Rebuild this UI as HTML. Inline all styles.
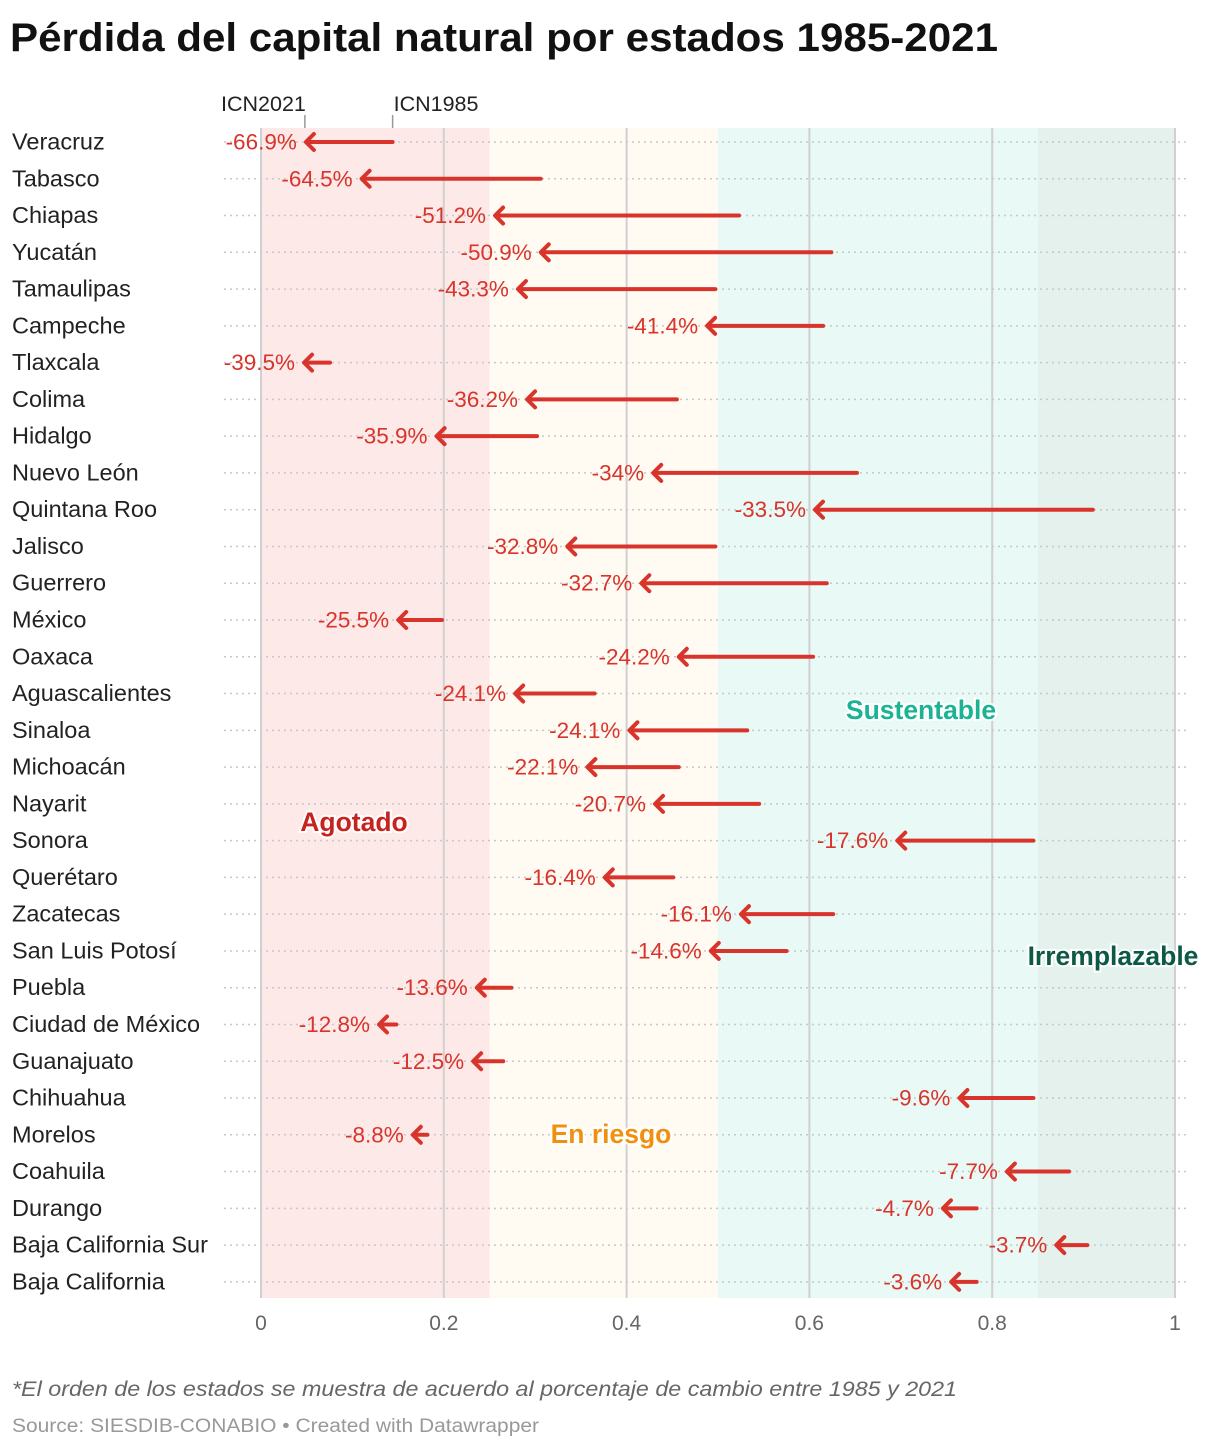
<!DOCTYPE html>
<html><head><meta charset="utf-8"><style>
body{margin:0;background:#fff;width:1220px;height:1448px;overflow:hidden;font-family:"Liberation Sans",Arial,sans-serif}
svg text{font-family:"Liberation Sans",Arial,sans-serif}
</style></head><body>
<svg id="chart" width="1220" height="1448" xmlns="http://www.w3.org/2000/svg">
<text x="10" y="51" font-size="40" font-weight="bold" fill="#111" textLength="988" lengthAdjust="spacingAndGlyphs">Pérdida del capital natural por estados 1985-2021</text>
<g id="bands"></g><g id="grid"></g><g id="marks"></g>
<text x="12" y="1396" font-size="21" font-style="italic" fill="#666" textLength="945" lengthAdjust="spacingAndGlyphs">*El orden de los estados se muestra de acuerdo al porcentaje de cambio entre 1985 y 2021</text>
<text x="12" y="1432" font-size="19" fill="#999" textLength="527" lengthAdjust="spacingAndGlyphs">Source: SIESDIB-CONABIO • Created with Datawrapper</text>
</svg>
<script>
const states=["Veracruz","Tabasco","Chiapas","Yucatán","Tamaulipas","Campeche","Tlaxcala","Colima","Hidalgo","Nuevo León","Quintana Roo","Jalisco","Guerrero","México","Oaxaca","Aguascalientes","Sinaloa","Michoacán","Nayarit","Sonora","Querétaro","Zacatecas","San Luis Potosí","Puebla","Ciudad de México","Guanajuato","Chihuahua","Morelos","Coahuila","Durango","Baja California Sur","Baja California"];
const icn1985=[0.144,0.306,0.523,0.624,0.497,0.615,0.0755,0.455,0.302,0.652,0.910,0.497,0.619,0.198,0.604,0.365,0.532,0.457,0.545,0.845,0.451,0.626,0.575,0.274,0.148,0.265,0.845,0.182,0.884,0.783,0.904,0.783];
const icn2021=[0.048,0.109,0.255,0.305,0.280,0.487,0.046,0.290,0.191,0.428,0.605,0.334,0.415,0.149,0.456,0.277,0.402,0.356,0.430,0.695,0.375,0.524,0.491,0.235,0.128,0.231,0.763,0.165,0.815,0.745,0.869,0.754];
const changeLabels=["-66.9%","-64.5%","-51.2%","-50.9%","-43.3%","-41.4%","-39.5%","-36.2%","-35.9%","-34%","-33.5%","-32.8%","-32.7%","-25.5%","-24.2%","-24.1%","-24.1%","-22.1%","-20.7%","-17.6%","-16.4%","-16.1%","-14.6%","-13.6%","-12.8%","-12.5%","-9.6%","-8.8%","-7.7%","-4.7%","-3.7%","-3.6%"];
const ticks=[0,0.2,0.4,0.6,0.8,1];
const tickLabels=["0","0.2","0.4","0.6","0.8","1"];
const zones=[[0,0.25,"#fde9e8"],[0.25,0.5,"#fffbf3"],[0.5,0.85,"#e9f9f5"],[0.85,1,"#e4f1ec"]];
const NS="http://www.w3.org/2000/svg";
const x=v=>261+v*914;
const y=i=>142+i*36.77;
function mk(tag,attrs,parent,txt){const e=document.createElementNS(NS,tag);for(const k in attrs)e.setAttribute(k,attrs[k]);if(txt!==undefined)e.textContent=txt;parent.appendChild(e);return e;}
const bands=document.getElementById('bands'),grid=document.getElementById('grid'),marks=document.getElementById('marks');
zones.forEach(z=>{const r=mk('rect',{x:x(z[0]),y:128,width:x(z[1])-x(z[0]),height:1170,fill:z[2]},bands);

});
ticks.forEach((t,i)=>{const l=mk('line',{x1:x(t),x2:x(t),y1:128,y2:1298,stroke:"#d0d0d0","stroke-width":2},grid);


const tx=mk('text',{x:x(t),y:1330,"font-size":21,fill:"#666","text-anchor":"middle"},grid,tickLabels[i]);

});
states.forEach((s,i)=>{const yy=y(i);
const d=mk('line',{x1:224,x2:1188,y1:yy,y2:yy,stroke:"#c8c8c8","stroke-width":1.5,"stroke-dasharray":"2,4"},grid);


const lab=mk('text',{x:12,y:yy+7.5,"font-size":23.5,fill:"#222"},grid,s);


const x0=x(icn1985[i]),x1=x(icn2021[i]);
const ln=mk('line',{x1:x0,x2:x1+3,y1:yy,y2:yy,stroke:"#d9342b","stroke-width":4,"stroke-linecap":"round"},marks);


const hd=mk('path',{d:`M${x1+9},${yy-8} L${x1+1},${yy} L${x1+9},${yy+8}`,fill:"none",stroke:"#d9342b","stroke-width":4,"stroke-linecap":"round","stroke-linejoin":"round"},marks);


const vl=mk('text',{x:x1-8,y:yy+7.5,"font-size":22.5,fill:"#d9342b","text-anchor":"end"},marks,changeLabels[i]);

});
[[icn2021[0],"ICN2021","end"],[icn1985[0],"ICN1985","start"]].forEach(h=>{const xx=x(h[0]);
const l=mk('line',{x1:xx,x2:xx,y1:115,y2:128,stroke:"#999","stroke-width":1.5},marks);


const t=mk('text',{x:xx+1,y:111,"font-size":21.5,fill:"#222","text-anchor":h[2]},marks,h[1]);

});
[["Agotado",354,831,"#c8221f"],["En riesgo",611,1143,"#f0900e"],["Sustentable",921,719,"#1ab394"],["Irremplazable",1113,965,"#0c5a45"]].forEach(a=>{
const t=mk('text',{x:a[1],y:a[2],"font-size":26.5,"font-weight":"bold",fill:a[3],"text-anchor":"middle",stroke:"#fff","stroke-width":4,"paint-order":"stroke"},marks,a[0]);

});
</script>
</body></html>
